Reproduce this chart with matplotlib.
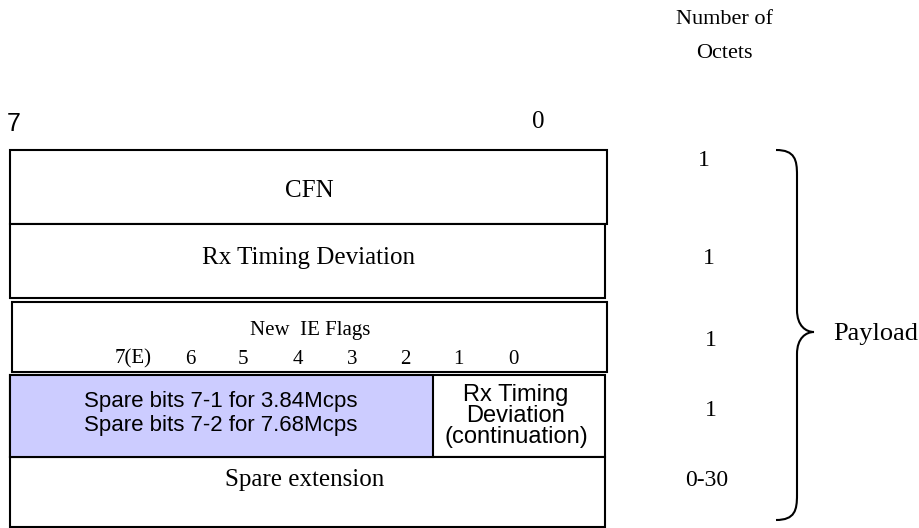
import matplotlib.pyplot as plt
from matplotlib.patches import Rectangle, PathPatch
from matplotlib.path import Path

serif = 'Liberation Serif'
sans = 'Liberation Sans'

# frame layout
rows = ['CFN', 'Rx Timing Deviation', 'New IE Flags', 'Spare bits', 'Spare extension']
row_top = [150, 224, 302, 375, 457]
row_bot = [224, 298, 372, 457, 527]
row_left = [10, 10, 12, 10, 10]
row_right = [607, 605, 607, 605, 605]

octets = ['1', '1', '1', '1', '0-30']
octet_x = [704, 709, 711, 711, 707]
octet_y = [160, 258, 340, 410, 480]

bit_labels = ['7(E)', '6', '5', '4', '3', '2', '1', '0']
bit_x = [133, 190, 243, 298, 352, 405, 458, 513]

spare_split = 433
spare_color = '#ccccff'

fig = plt.figure(figsize=(9.19, 5.28), dpi=100)
ax = fig.add_axes([0, 0, 1, 1])
ax.set_xlim(0, 919)
ax.set_ylim(528, 0)
ax.axis('off')

for i in range(len(rows)):
    w = row_right[i] - row_left[i]
    h = row_bot[i] - row_top[i]
    ax.add_patch(Rectangle((row_left[i], row_top[i]), w, h,
                           facecolor='white', edgecolor='black', lw=1.5))

# blue spare cell
ax.add_patch(Rectangle((row_left[3], row_top[3]), spare_split - row_left[3],
                       row_bot[3] - row_top[3], facecolor=spare_color,
                       edgecolor='black', lw=1.5))

ax.text(309, 191, 'CFN', family=serif, fontsize=18, ha='center', va='center')
ax.text(308, 258, 'Rx Timing Deviation', family=serif, fontsize=18, ha='center', va='center')
ax.text(310, 331, 'New  IE Flags', family=serif, fontsize=15, ha='center', va='center')
for b, x in zip(bit_labels, bit_x):
    ax.text(x, 359, b, family=serif, fontsize=15, ha='center', va='center')
ax.text(221, 401, 'Spare bits 7-1 for 3.84Mcps', family=sans, fontsize=16, ha='center', va='center')
ax.text(221, 426, 'Spare bits 7-2 for 7.68Mcps', family=sans, fontsize=16, ha='center', va='center')
ax.text(516, 416, 'Rx Timing\nDeviation\n(continuation)', family=sans, fontsize=17,
        ha='center', va='center', linespacing=0.92)
ax.text(305, 480, 'Spare extension', family=serif, fontsize=18, ha='center', va='center')

ax.text(14, 124, '7', family=sans, fontsize=18, ha='center', va='center')
ax.text(538, 122, '0', family=serif, fontsize=18, ha='center', va='center')

ax.text(724, 20, 'Number of', family=serif, fontsize=16, ha='center', va='center')
ax.text(724, 53, 'Octets', family=serif, fontsize=16, ha='center', va='center')

for t, x, y in zip(octets, octet_x, octet_y):
    ax.text(x, y, t, family=serif, fontsize=17, ha='center', va='center')

# curly brace
top, bot, tip = 150, 520, 332
xl, xv, xt = 776, 797, 814
verts = [(xl, top), (xv - 2, top), (xv, top + 10), (xv, top + 25),
         (xv, tip - 22),
         (xv, tip - 6), (xt - 8, tip), (xt, tip),
         (xt - 8, tip), (xv, tip + 6), (xv, tip + 22),
         (xv, bot - 25),
         (xv, bot - 10), (xv - 2, bot), (xl, bot)]
codes = [Path.MOVETO, Path.CURVE4, Path.CURVE4, Path.CURVE4,
         Path.LINETO,
         Path.CURVE4, Path.CURVE4, Path.CURVE4,
         Path.CURVE4, Path.CURVE4, Path.CURVE4,
         Path.LINETO,
         Path.CURVE4, Path.CURVE4, Path.CURVE4]
ax.add_patch(PathPatch(Path(verts, codes), facecolor='none', edgecolor='black', lw=1.5))

ax.text(833, tip + 2, 'Payload', family=serif, fontsize=19, ha='left', va='center')

fig.savefig('out.png', dpi=100)
